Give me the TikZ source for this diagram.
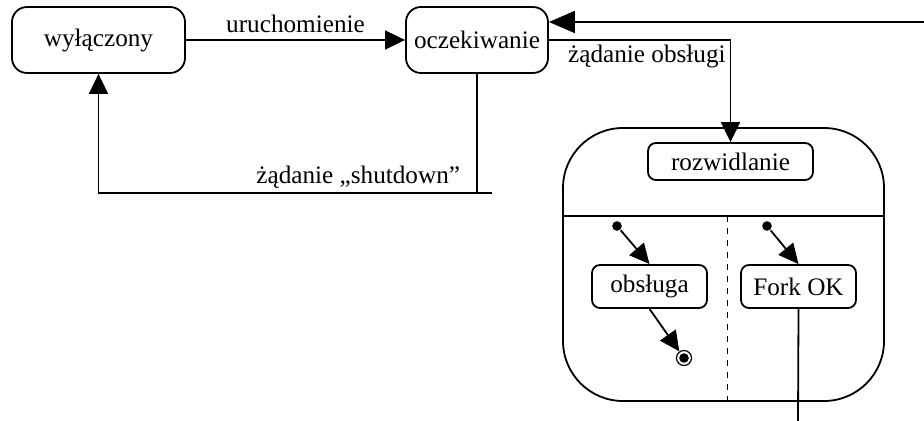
\documentclass[tikz,border=0pt]{standalone}
\usepackage{fontspec}
\setmainfont{Liberation Serif}
\usetikzlibrary{arrows.meta}

\tikzset{
  state/.style={draw, rounded corners=7.5pt, minimum height=33pt, inner sep=2pt},
  substate/.style={draw, rounded corners=4pt, inner sep=2pt},
  trans/.style={-{Triangle[length=10pt,width=9.5pt]}},
  bigtrans/.style={-{Triangle[length=13pt,width=11pt]}},
  startdot/.style={circle, fill, inner sep=0pt, minimum size=4.8pt},
}

\begin{document}
\begin{tikzpicture}[x=0.5pt, y=-0.5pt, line width=0.9pt,
                    every node/.style={font=\fontsize{12.6}{14}\selectfont}]
\useasboundingbox (0,0) rectangle (924,421); % page size

% top level states
\node [state, minimum width=86.5pt] (wyl) at (98.5,40) {wyłączony};
\node [state, minimum width=71pt] (ocz) at (477,40) {oczekiwanie};

% composite state with two regions
\node [draw, rounded corners=30pt,
       minimum width=160.5pt, minimum height=136.5pt] (rozwState) at (723.5,264.5) {};
\node [substate, minimum width=82.5pt, minimum height=18.5pt] (rozw) at (730.5,161.5) {rozwidlanie};
\draw (rozwState.west |- 0,216) -- (rozwState.east |- 0,216); % region divider
\draw [dashed, line width=0.5pt] (727,216) -- (rozwState.south -| 727,0);

\node [substate, minimum width=57.5pt, minimum height=21.5pt] (obs) at (649.5,286.5) {obsługa};
\node [substate, minimum width=57.5pt, minimum height=21.5pt] (forkOk) at (798.5,286.5) {Fork OK};
\node [startdot] (init1) at (617,226) {};
\node [startdot] (init2) at (767,226) {};
\node [circle, draw, inner sep=0pt, minimum size=7.5pt, line width=0.6pt] (final) at (684,358) {};
\fill (final) circle (2.4pt);

% free ends
\coordinate (back) at (924,22);
\coordinate (stub) at (492,193);
\coordinate (out) at (798,421);

% transitions
\draw [trans] (wyl) -- node [above] {uruchomienie} (ocz);
\draw [bigtrans] (back) -- (back -| ocz.east);
\draw [trans] (ocz.east) -| node [pos=0.5, below left, inner sep=2pt] {żądanie obsługi} (rozw.north);
\draw (ocz.south) -- (ocz.south |- stub);
\draw [trans] (stub) -| node [pos=0.17, above, inner sep=2pt] {żądanie „shutdown”} (wyl.south);

\draw [trans] (init1) -- (obs.north);
\draw [trans] (init2) -- (forkOk.north);
\draw [trans] (obs.south) -- (final);
\draw (forkOk.south) -- (out);

\end{tikzpicture}
\end{document}
